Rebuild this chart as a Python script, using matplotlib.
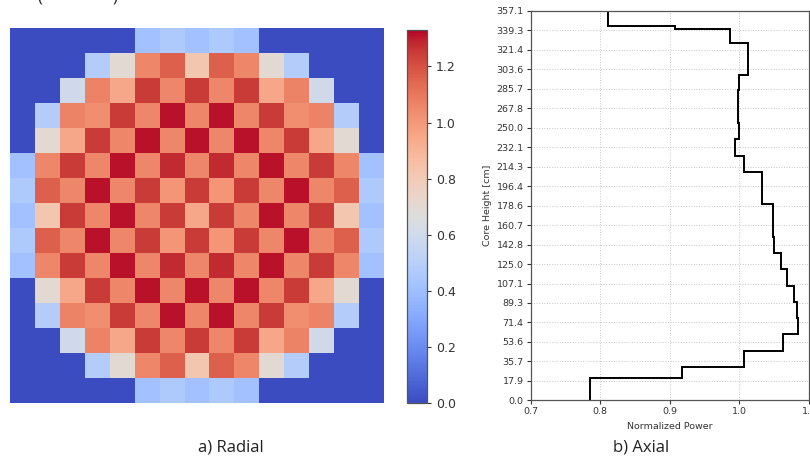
import numpy as np
import matplotlib
matplotlib.use("Agg")
import matplotlib.pyplot as plt

# ---------------- data ----------------
# radial normalized power map (15 x 15 assemblies, 0 = reflector)
radial_power = [
    [0.00, 0.00, 0.00, 0.00, 0.00, 0.42, 0.46, 0.42, 0.46, 0.42, 0.00, 0.00, 0.00, 0.00, 0.00],
    [0.00, 0.00, 0.00, 0.48, 0.70, 1.05, 1.16, 0.82, 1.16, 1.05, 0.70, 0.48, 0.00, 0.00, 0.00],
    [0.00, 0.00, 0.60, 1.07, 0.95, 1.25, 1.05, 1.25, 1.05, 1.25, 0.95, 1.07, 0.60, 0.00, 0.00],
    [0.00, 0.48, 1.07, 1.03, 1.25, 1.05, 1.31, 1.05, 1.31, 1.05, 1.25, 1.03, 1.07, 0.48, 0.00],
    [0.00, 0.70, 0.95, 1.25, 1.05, 1.31, 1.05, 1.31, 1.05, 1.31, 1.05, 1.25, 0.95, 0.70, 0.00],
    [0.42, 1.05, 1.25, 1.05, 1.31, 1.05, 1.28, 1.05, 1.28, 1.05, 1.31, 1.05, 1.25, 1.05, 0.42],
    [0.46, 1.16, 1.05, 1.31, 1.05, 1.25, 1.01, 1.25, 1.01, 1.25, 1.05, 1.31, 1.05, 1.16, 0.46],
    [0.42, 0.82, 1.25, 1.05, 1.31, 1.05, 1.25, 0.95, 1.25, 1.05, 1.31, 1.05, 1.25, 0.82, 0.42],
    [0.46, 1.16, 1.05, 1.31, 1.05, 1.25, 1.01, 1.25, 1.01, 1.25, 1.05, 1.31, 1.05, 1.16, 0.46],
    [0.42, 1.05, 1.25, 1.05, 1.31, 1.05, 1.28, 1.05, 1.28, 1.05, 1.31, 1.05, 1.25, 1.05, 0.42],
    [0.00, 0.70, 0.95, 1.25, 1.05, 1.31, 1.05, 1.31, 1.05, 1.31, 1.05, 1.25, 0.95, 0.70, 0.00],
    [0.00, 0.48, 1.07, 1.03, 1.25, 1.05, 1.31, 1.05, 1.31, 1.05, 1.25, 1.03, 1.07, 0.48, 0.00],
    [0.00, 0.00, 0.60, 1.07, 0.95, 1.25, 1.05, 1.25, 1.05, 1.25, 0.95, 1.07, 0.60, 0.00, 0.00],
    [0.00, 0.00, 0.00, 0.48, 0.70, 1.05, 1.16, 0.82, 1.16, 1.05, 0.70, 0.48, 0.00, 0.00, 0.00],
    [0.00, 0.00, 0.00, 0.00, 0.00, 0.42, 0.46, 0.42, 0.46, 0.42, 0.00, 0.00, 0.00, 0.00, 0.00],
]
colorbar_ticks = [0.0, 0.2, 0.4, 0.6, 0.8, 1.0, 1.2]

# axial profile: bin edges [cm] (bottom to top) and normalized power per bin
axial_edges = [0.0, 20.2, 30.3, 45.5, 60.5, 75.2, 90.4, 104.8, 120.2, 134.8, 149.5,
               164.9, 180.1, 194.7, 209.4, 224.1, 239.4, 254.1, 269.3, 284.6, 298.1,
               313.7, 328.0, 340.3, 343.3, 357.1]
axial_power = [0.785, 0.917, 1.007, 1.062, 1.084, 1.083, 1.078, 1.069, 1.060, 1.050,
               1.049, 1.049, 1.032, 1.032, 1.006, 0.994, 1.000, 0.998, 0.998, 1.000,
               1.012, 1.013, 0.986, 0.907, 0.811]
height_ticks = [0.0, 17.9, 35.7, 53.6, 71.4, 89.3, 107.1, 125.0, 142.8, 160.7, 178.6,
                196.4, 214.3, 232.1, 250.0, 267.8, 285.7, 303.6, 321.4, 339.3, 357.1]
power_ticks = [0.7, 0.8, 0.9, 1.0, 1.1]

# ---------------- figure ----------------
W, H = 810, 462
fig = plt.figure(figsize=(W / 100, H / 100), dpi=100)

def rect(x0, y0, x1, y1):
    return [x0 / W, 1 - y1 / H, (x1 - x0) / W, (y1 - y0) / H]

# radial map
ax1 = fig.add_axes(rect(10, 28, 384, 403))
im = ax1.imshow(np.array(radial_power), cmap="coolwarm", vmin=0.0, vmax=1.33,
                interpolation="nearest", aspect="auto")
ax1.axis("off")

cax = fig.add_axes(rect(407, 30, 427, 403))
cb = fig.colorbar(im, cax=cax, ticks=colorbar_ticks)
cb.ax.tick_params(labelsize=9, length=3, width=0.8, colors="#333333")
cb.outline.set_edgecolor("#555555")
cb.outline.set_linewidth(0.9)

# axial profile
ax2 = fig.add_axes(rect(530.5, 11, 809, 400.3))
ax2.stairs(axial_power, axial_edges, orientation="horizontal", baseline=None,
           color="black", linewidth=1.4)
ax2.set_xlim(0.7, 1.1)
ax2.set_ylim(0.0, 357.1)
ax2.set_xticks(power_ticks)
ax2.set_yticks(height_ticks)
ax2.set_xticklabels([f"{t:.1f}" for t in power_ticks])
ax2.set_yticklabels([f"{t:.1f}" for t in height_ticks])
ax2.tick_params(labelsize=6.8, length=3, width=0.8, colors="#333333", pad=2)
ax2.grid(True, linestyle=":", color="#c8c8c8", linewidth=0.7)
ax2.set_axisbelow(True)
ax2.set_xlabel("Normalized Power", fontsize=6.8, color="#333333", labelpad=4)
ax2.set_ylabel("Core Height [cm]", fontsize=6.8, color="#333333", labelpad=3)
for s in ax2.spines.values():
    s.set_color("#555555")
    s.set_linewidth(0.9)

# captions
fig.text(231 / W, 1 - 447 / H, "a) Radial", fontsize=12, family="Open Sans",
         ha="center", va="center", color="#222222")
fig.text(641 / W, 1 - 447 / H, "b) Axial", fontsize=12, family="Open Sans",
         ha="center", va="center", color="#222222")
# clipped remnants at the very top
fig.text(40 / W, 1 + 3 / H, "(", fontsize=12, family="Open Sans", ha="center",
         va="center", color="#222222")
fig.text(115 / W, 1 + 3 / H, ")", fontsize=12, family="Open Sans", ha="center",
         va="center", color="#222222")

fig.savefig("out.png", dpi=100)
